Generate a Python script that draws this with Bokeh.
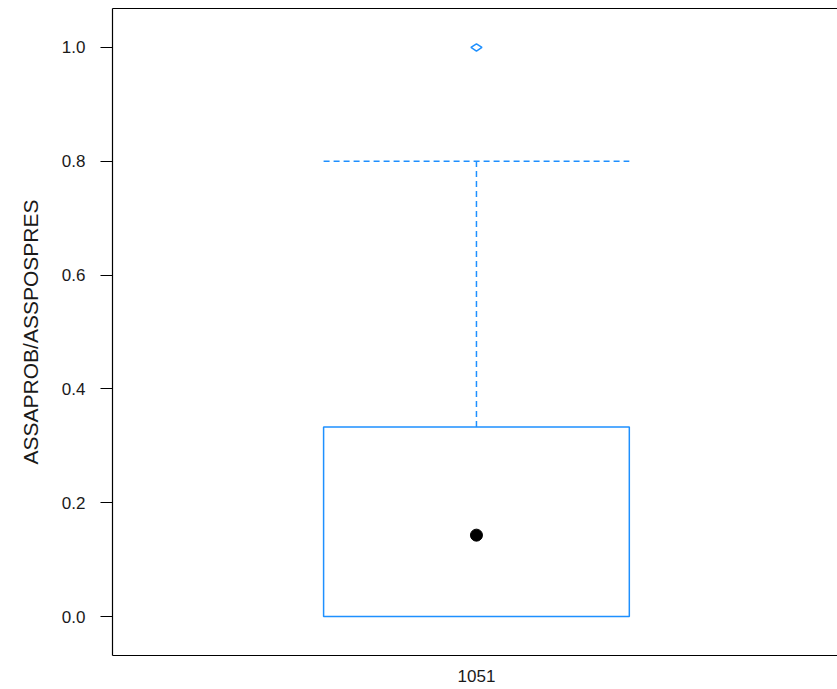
import math
from bokeh.plotting import figure
from bokeh.models import Range1d, FixedTicker, LinearAxis
from bokeh.embed import file_html
from bokeh.resources import INLINE

# data
categories = ["1051"]
q1 = [0.0]
median = [0.143]
q3 = [0.333]
lower_whisker = [0.0]
upper_whisker = [0.8]
outliers_cat = ["1051"]
outliers_val = [1.0]

BLUE = "#1E90FF"
FONT = "Liberation Sans"
box_w = 0.42

xs = [i + 1 for i in range(len(categories))]
out_x = [categories.index(c) + 1 for c in outliers_cat]

p = figure(width=837, height=689, output_backend="svg", toolbar_location=None,
           x_range=Range1d(0.5, len(categories) + 0.496), y_range=Range1d(-0.0685, 1.0685),
           min_border_left=112, min_border_right=0, min_border_top=8, min_border_bottom=34)
p.grid.visible = False
p.outline_line_color = None
p.background_fill_color = "white"
p.border_fill_color = "white"

# box
p.quad(left=[x - box_w / 2 for x in xs], right=[x + box_w / 2 for x in xs],
       bottom=q1, top=q3, fill_color=None, line_color=BLUE, line_width=1.5)
# whiskers
p.segment(x0=xs, y0=q3, x1=xs, y1=upper_whisker, line_color=BLUE, line_width=1.5, line_dash="6 4")
p.segment(x0=[x - box_w / 2 for x in xs], y0=upper_whisker, x1=[x + box_w / 2 for x in xs],
          y1=upper_whisker, line_color=BLUE, line_width=1.5, line_dash="6 4")
# median point
p.scatter(x=xs, y=median, size=12, marker="circle", fill_color="black", line_color="black")
# outliers
p.scatter(x=out_x, y=outliers_val, size=11, marker="diamond", angle=math.pi / 2,
          fill_color=None, line_color=BLUE, line_width=1.5)

# axes
p.xaxis.ticker = FixedTicker(ticks=xs)
p.xaxis.major_label_overrides = {x: c for x, c in zip(xs, categories)}
p.xaxis.axis_line_color = "black"
p.xaxis.axis_line_width = 1.2
p.xaxis.major_tick_line_color = None
p.xaxis.minor_tick_line_color = None
p.xaxis.major_tick_out = 0
p.xaxis.major_label_standoff = 14
p.xaxis.major_label_text_font = FONT
p.xaxis.major_label_text_font_size = "17px"
p.xaxis.major_label_text_color = "#1a1a1a"

top_axis = LinearAxis(ticker=FixedTicker(ticks=[]), axis_line_color="black", axis_line_width=1.2,
                      major_tick_line_color=None, minor_tick_line_color=None,
                      major_label_text_font_size="0px")
p.add_layout(top_axis, "above")

p.yaxis.ticker = FixedTicker(ticks=[0.0, 0.2, 0.4, 0.6, 0.8, 1.0])
p.yaxis.major_label_overrides = {0.0: "0.0", 0.2: "0.2", 0.4: "0.4", 0.6: "0.6", 0.8: "0.8", 1.0: "1.0"}
p.yaxis.axis_line_color = "black"
p.yaxis.axis_line_width = 1.2
p.yaxis.major_tick_out = 12
p.yaxis.major_tick_in = 0
p.yaxis.major_tick_line_color = "black"
p.yaxis.minor_tick_line_color = None
p.yaxis.major_label_standoff = 15
p.yaxis.major_label_text_font = FONT
p.yaxis.major_label_text_font_size = "17px"
p.yaxis.major_label_text_color = "#1a1a1a"
p.yaxis.axis_label = "ASSAPROB/ASSPOSPRES"
p.yaxis.axis_label_text_font = FONT
p.yaxis.axis_label_text_font_style = "normal"
p.yaxis.axis_label_text_font_size = "21px"
p.yaxis.axis_label_text_color = "#1a1a1a"
p.yaxis.axis_label_standoff = 17

open("out.html", "w").write(file_html(p, INLINE))
